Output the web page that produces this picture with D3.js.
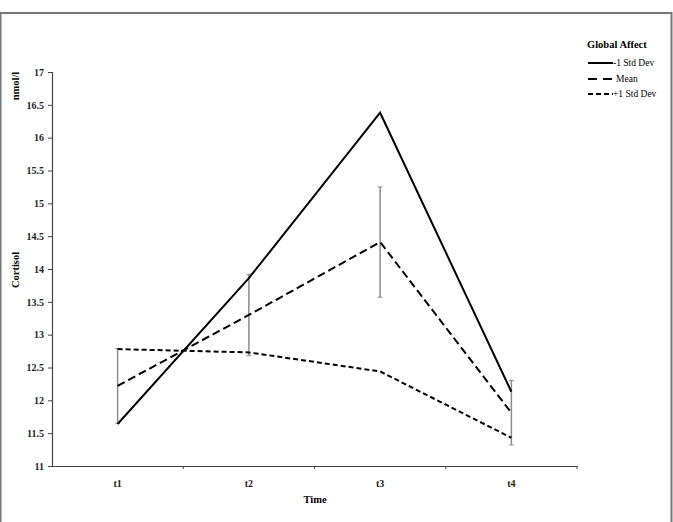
<!DOCTYPE html>
<html>
<head>
<meta charset="utf-8">
<script src="https://cdn.jsdelivr.net/npm/d3@7"></script>
<style>
  body { margin: 0; background: #fff; }
  svg { display: block; font-family: "Liberation Serif", "Times New Roman", serif; }
</style>
</head>
<body>
<svg class="chart" width="673" height="522"></svg>
<script>
// values
var times = ["t1", "t2", "t3", "t4"]
var lowAffect = [11.64, 13.86, 16.38, 12.13]    // -1 Std Dev
var meanAffect = [12.22, 13.30, 14.41, 11.81]   // Mean
var highAffect = [12.78, 12.73, 12.44, 11.43]   // +1 Std Dev
var meanError = [0.57, 0.62, 0.84, 0.49]        // error bar half-length on the Mean line
var yTicks = [11, 11.5, 12, 12.5, 13, 13.5, 14, 14.5, 15, 15.5, 16, 16.5, 17]
var seriesNames = ["-1 Std Dev", "Mean", "+1 Std Dev"]

var svg = d3.select(".chart")

// outer frame
svg.append("rect")
  .attr("x", 0.5)
  .attr("y", 13)
  .attr("width", 671)
  .attr("height", 530)
  .attr("fill", "none")
  .attr("stroke", "#777")
  .attr("stroke-width", 2)

var x = d3.scaleBand()
  .domain(times)
  .range([52, 577])

var y = d3.scaleLinear()
  .domain([11, 17])
  .range([466, 72])

// y axis
var yAxis = svg.append("g")
  .attr("transform", "translate(52,0)")
  .call(d3.axisLeft(y).tickValues(yTicks).tickSize(4).tickPadding(4).tickFormat(d3.format("")))
yAxis.select(".domain").attr("stroke", "#444").attr("stroke-width", 1.2)
yAxis.selectAll(".tick line").attr("stroke", "#444")
yAxis.selectAll("text")
  .style("font-family", "Liberation Serif, serif")
  .style("font-size", "10px")
  .style("font-weight", "bold")
  .attr("fill", "#222")

// x axis: ticks sit on the band edges, labels in the middle
var xAxis = svg.append("g")
  .attr("transform", "translate(0,466)")
  .call(d3.axisBottom(x).tickSize(0).tickPadding(14))
xAxis.select(".domain").attr("stroke", "#444").attr("stroke-width", 1.2)
xAxis.selectAll("text")
  .style("font-family", "Liberation Serif, serif")
  .style("font-size", "10px")
  .style("font-weight", "bold")
  .attr("fill", "#222")

xAxis.selectAll(".edge")
  .data(times)
  .enter()
  .append("line")
  .attr("x1", function(d) { return x(d) + x.bandwidth() })
  .attr("x2", function(d) { return x(d) + x.bandwidth() })
  .attr("y1", 0)
  .attr("y2", 3)
  .attr("stroke", "#444")

function cx(d) { return x(d) + x.bandwidth() / 2 }

// error bars
var bars = svg.append("g")
times.forEach(function(t, i) {
  var lo = y(meanAffect[i] - meanError[i])
  var hi = y(meanAffect[i] + meanError[i])
  bars.append("line")
    .attr("x1", cx(t)).attr("x2", cx(t))
    .attr("y1", lo).attr("y2", hi)
    .attr("stroke", "#8c8c8c").attr("stroke-width", 1.5)
  bars.append("line")
    .attr("x1", cx(t) - 2.5).attr("x2", cx(t) + 2.5)
    .attr("y1", lo).attr("y2", lo)
    .attr("stroke", "#8c8c8c").attr("stroke-width", 1)
  bars.append("line")
    .attr("x1", cx(t) - 2.5).attr("x2", cx(t) + 2.5)
    .attr("y1", hi).attr("y2", hi)
    .attr("stroke", "#8c8c8c").attr("stroke-width", 1)
})

var dashes = ["none", "8,4", "5,3"]
var allSeries = [lowAffect, meanAffect, highAffect]

var line = d3.line()
  .x(function(d, i) { return cx(times[i]) })
  .y(function(d) { return y(d) })

allSeries.forEach(function(s, k) {
  svg.append("path")
    .datum(s)
    .attr("d", line)
    .attr("fill", "none")
    .attr("stroke", "#000")
    .attr("stroke-width", 2)
    .attr("stroke-dasharray", dashes[k])
})

// axis titles
svg.append("text")
  .attr("transform", "translate(19,270) rotate(-90)")
  .attr("text-anchor", "middle")
  .style("font-size", "10.5px")
  .style("font-weight", "bold")
  .text("Cortisol")

svg.append("text")
  .attr("transform", "translate(19,86) rotate(-90)")
  .attr("text-anchor", "middle")
  .style("font-size", "10.5px")
  .style("font-weight", "bold")
  .text("nmol/l")

svg.append("text")
  .attr("x", 315)
  .attr("y", 503)
  .attr("text-anchor", "middle")
  .style("font-size", "10.5px")
  .style("font-weight", "bold")
  .text("Time")

// legend
var legend = svg.append("g")
legend.append("text")
  .attr("x", 587)
  .attr("y", 48)
  .style("font-size", "10.5px")
  .style("font-weight", "bold")
  .text("Global Affect")

var legendY = [63, 79, 94]
var textX = [613, 616, 613]
seriesNames.forEach(function(name, k) {
  legend.append("line")
    .attr("x1", 588).attr("x2", 613)
    .attr("y1", legendY[k]).attr("y2", legendY[k])
    .attr("stroke", "#000")
    .attr("stroke-width", 2)
    .attr("stroke-dasharray", k === 1 ? "9,6" : dashes[k])
  legend.append("text")
    .attr("x", textX[k])
    .attr("y", legendY[k] + 3)
    .style("font-size", "9.5px")
    .text(name)
})
</script>
</body>
</html>
